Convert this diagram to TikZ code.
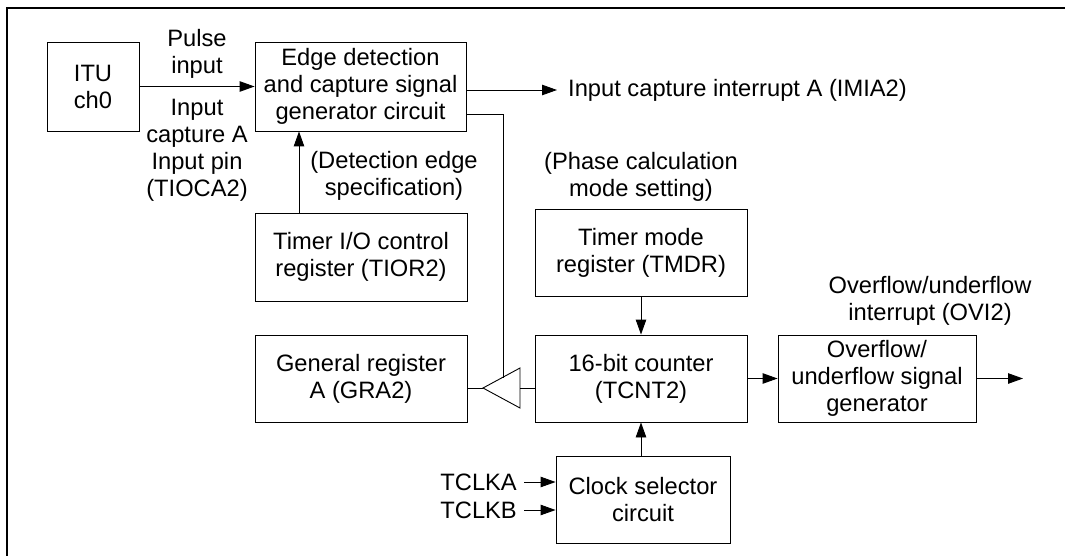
\documentclass[tikz,border=0pt]{standalone}
\usepackage{fontspec}
\setmainfont{Liberation Sans}
\usetikzlibrary{arrows.meta}
\begin{document}
\begin{tikzpicture}[x=1pt,y=-1pt,
  font=\fontsize{23.7}{27}\selectfont,
  blk/.style={draw,line width=0.9pt,align=center,inner sep=0pt},
  lbl/.style={align=center,inner sep=0pt},
  sig/.style={line width=0.9pt,-{Triangle[length=15pt,width=10.5pt]}}]
\useasboundingbox (0,0) rectangle (1065,556);
\draw[line width=2pt] (6.5,556) -- (6.5,8.5) -- (1065,8.5);

\node[blk,minimum width=92pt,minimum height=89pt] (itu) at (93,86.5) {ITU\\ch0};
\node[blk,minimum width=211pt,minimum height=89pt] (edge) at (360.5,86.5) {Edge detection\\and capture signal\\generator circuit};
\node[blk,minimum width=212pt,minimum height=88pt] (tior) at (361,257) {Timer I/O control\\register (TIOR2)};
\node[blk,minimum width=212pt,minimum height=87pt] (gra) at (361,378.5) {General register\\A (GRA2)};
\node[blk,minimum width=212pt,minimum height=87pt] (tmdr) at (641,252.5) {Timer mode\\register (TMDR)};
\node[blk,minimum width=212pt,minimum height=87pt] (cnt) at (641,378.5) {16-bit counter\\(TCNT2)};
\node[blk,minimum width=198pt,minimum height=87pt] (ovf) at (877,378.5) {Overflow/\\underflow signal\\generator};
\node[blk,minimum width=174pt,minimum height=87pt] (clk) at (643,499.5) {Clock selector\\circuit};

\node[lbl] (pulse) at (197,54) {Pulse\\input};
\node[lbl] (pin) at (197,150) {Input\\capture A\\Input pin\\(TIOCA2)};
\node[lbl] (dedge) at (394,176) {(Detection edge\\specification)};
\node[lbl] (phase) at (641,177) {(Phase calculation\\mode setting)};
\node[lbl] (ovi) at (930,301) {Overflow/underflow\\interrupt (OVI2)};
\node[lbl,anchor=west] (imia) at (568,90) {Input capture interrupt A (IMIA2)};
\node[lbl,anchor=east] (clka) at (517,482) {TCLKA};
\node[lbl,anchor=east] (clkb) at (517,510) {TCLKB};
\coordinate (out) at (1023,378.5);

\draw[sig] (itu) -- (edge);
\draw[sig] ([yshift=-3.5pt]edge.east) -- ([xshift=-11pt]imia.west |- 0,90);
\draw[sig] (tior.north -| 299,0) -- (edge.south -| 299,0);
\draw[sig] (tmdr) -- (cnt);
\draw[sig] (clk.north -| cnt) -- (cnt);
\draw[sig] (cnt) -- (ovf);
\draw[sig] (ovf) -- (out);
\draw[sig] ([xshift=7pt]clka.east) -- (clk.west |- clka);
\draw[sig] ([xshift=7pt]clkb.east) -- (clk.west |- clkb);

\coordinate (tip) at (483,388);
\draw[line width=0.9pt] (520,368) -- (tip) -- (520,408) -- cycle;
\draw[line width=0.9pt] (gra.east |- tip) -- (tip);
\draw[line width=0.9pt] (520,388) -- (cnt.west |- tip);
\draw[line width=0.9pt] ([yshift=-27.5pt]edge.east) -- (503,114) -- (503,377.7);
\end{tikzpicture}
\end{document}
